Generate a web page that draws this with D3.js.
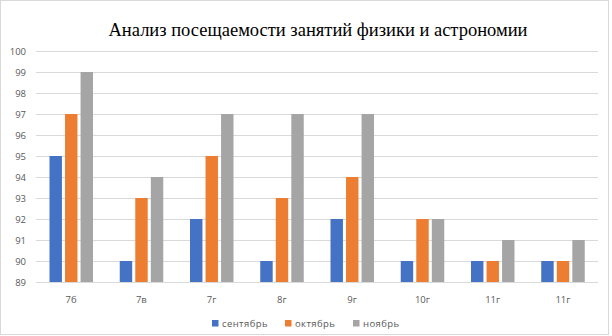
<!DOCTYPE html>
<html>
<head>
<meta charset="utf-8">
<script src="https://cdn.jsdelivr.net/npm/d3@7"></script>
<style>
  body { margin: 0; background: #fff; }
  svg { display: block; }
</style>
</head>
<body>
<div id="chart"></div>
<script>
const classes = ['7б', '7в', '7г', '8г', '9г', '10г', '11г', '11г '];
const series = ['сентябрь', 'октябрь', 'ноябрь'];
const september = [95, 90, 92, 90, 92, 90, 90, 90];
const october = [97, 93, 95, 93, 94, 92, 90, 90];
const november = [99, 94, 97, 97, 97, 92, 91, 91];
const yTicks = [89, 90, 91, 92, 93, 94, 95, 96, 97, 98, 99, 100];
const colors = ['#4472C4', '#ED7D31', '#A5A5A5'];

const width = 612, height = 336;
const svg = d3.select('#chart').append('svg')
  .attr('width', width).attr('height', height);

svg.append('rect')
  .attr('x', 0.5).attr('y', 0.5)
  .attr('width', 608).attr('height', 334)
  .attr('fill', '#fff').attr('stroke', '#D9D9D9');

svg.append('text')
  .attr('x', 318).attr('y', 36)
  .attr('text-anchor', 'middle')
  .style('font-family', '"Liberation Serif", "Times New Roman", serif')
  .style('font-size', '18.5px')
  .attr('fill', '#000')
  .text('Анализ посещаемости занятий физики и астрономии');

const x0 = d3.scaleBand().domain(classes).range([36, 598]);
const x1 = d3.scaleBand().domain(series).range([13.5, 57]).paddingInner(0.2);
const y = d3.scaleLinear().domain([89, 100]).range([282, 51]);

// gridlines
svg.append('g').selectAll('line')
  .data(yTicks).join('line')
  .attr('x1', 36).attr('x2', 598)
  .attr('y1', d => Math.round(y(d)) + 0.5).attr('y2', d => Math.round(y(d)) + 0.5)
  .attr('stroke', '#D9D9D9').attr('stroke-width', 1);

// y labels
svg.append('g').selectAll('text')
  .data(yTicks).join('text')
  .attr('x', 26).attr('y', d => y(d) + 3.5)
  .attr('text-anchor', 'end')
  .style('font-family', '"Open Sans", "Noto Sans", sans-serif')
  .style('font-size', '9.5px')
  .attr('fill', '#595959')
  .text(d => d);

const rows = classes.map((c, i) => ({
  cls: c,
  vals: [september[i], october[i], november[i]]
}));

const groups = svg.append('g').selectAll('g')
  .data(rows).join('g')
  .attr('transform', d => `translate(${x0(d.cls)},0)`);

groups.selectAll('rect')
  .data(d => d.vals.map((v, j) => ({ s: series[j], v, j })))
  .join('rect')
  .attr('x', d => x1(d.s))
  .attr('width', x1.bandwidth())
  .attr('y', d => y(d.v))
  .attr('height', d => y(89) - y(d.v))
  .attr('fill', d => colors[d.j]);

// x labels
svg.append('g').selectAll('text')
  .data(classes).join('text')
  .attr('x', d => x0(d) + x0.bandwidth() / 2)
  .attr('y', 303)
  .attr('text-anchor', 'middle')
  .style('font-family', '"Open Sans", "Noto Sans", sans-serif')
  .style('font-size', '9.5px')
  .attr('fill', '#595959')
  .text(d => d.trim());

// legend
const legendX = [212, 285, 353];
const legend = svg.append('g').selectAll('g')
  .data(series).join('g')
  .attr('transform', (d, i) => `translate(${legendX[i]},320)`);
legend.append('rect')
  .attr('width', 6.5).attr('height', 6.5)
  .attr('fill', (d, i) => colors[i]);
legend.append('text')
  .attr('x', 10).attr('y', 6.5)
  .style('font-family', '"Open Sans", "Noto Sans", sans-serif')
  .style('font-size', '9.5px')
  .style('letter-spacing', '0.4px')
  .attr('fill', '#595959')
  .text(d => d);
</script>
</body>
</html>
